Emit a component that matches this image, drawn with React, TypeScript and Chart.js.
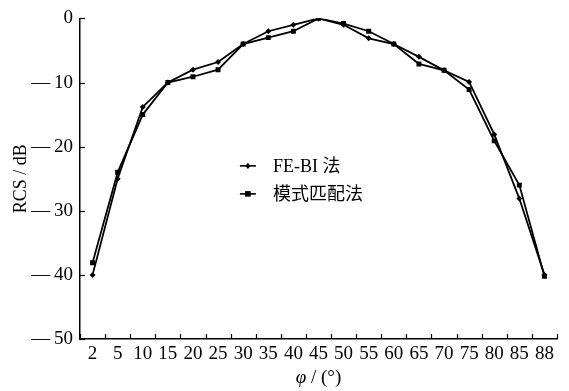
import React, { useEffect, useRef } from "react";
import { Chart, registerables } from "chart.js";

Chart.register(...registerables);

const categories = ["2", "5", "10", "15", "20", "25", "30", "35", "40", "45", "50", "55", "60", "65", "70", "75", "80", "85", "88"];
const febiValues = [-40, -25, -13.8, -10, -8, -6.8, -4, -2, -1, 0, -1, -3.1, -4, -6, -8.1, -9.9, -18.1, -28.1, -40];
const modalValues = [-38.1, -24, -15, -10, -9.1, -8, -4, -3, -2, 0, -0.8, -2, -4, -7.1, -8.1, -11.1, -19.1, -26, -40.2];
const seriesNames = ["FE-BI 法", "模式匹配法"];
const yTicks = [0, -10, -20, -30, -40, -50];

const SERIF = "'Liberation Serif', 'Times New Roman', 'Noto Sans CJK SC', serif";

function drawMarker(ctx: CanvasRenderingContext2D, style: string, x: number, y: number, r: number) {
  ctx.beginPath();
  if (style === "rectRot") {
    ctx.moveTo(x, y - r * 1.2);
    ctx.lineTo(x + r, y);
    ctx.lineTo(x, y + r * 1.2);
    ctx.lineTo(x - r, y);
    ctx.closePath();
  } else {
    ctx.rect(x - r, y - r, 2 * r, 2 * r);
  }
  ctx.fill();
}

const decorPlugin = {
  id: "decor",
  afterDraw(chart: any) {
    const ctx: CanvasRenderingContext2D = chart.ctx;
    const area = chart.chartArea;
    const xs = chart.scales.x;
    const ys = chart.scales.y;
    ctx.save();
    ctx.strokeStyle = "#000";
    ctx.lineWidth = 1.2;
    // inward x ticks at category boundaries
    const step = xs.getPixelForValue(1) - xs.getPixelForValue(0);
    for (let i = 0; i <= categories.length; i++) {
      const px = Math.round(xs.getPixelForValue(0) - step / 2 + i * step) + 0.5;
      ctx.beginPath();
      ctx.moveTo(px, area.bottom);
      ctx.lineTo(px, area.bottom - 5);
      ctx.stroke();
    }
    // inward y ticks
    ys.ticks.forEach((t: any) => {
      const py = Math.round(ys.getPixelForValue(t.value)) + 0.5;
      ctx.beginPath();
      ctx.moveTo(area.left, py);
      ctx.lineTo(area.left + 5, py);
      ctx.stroke();
    });

    // axis titles
    ctx.fillStyle = "#000";
    ctx.textBaseline = "middle";
    const cx = (area.left + area.right) / 2;
    const ty = 378;
    ctx.font = `italic 19px ${SERIF}`;
    const phi = "φ";
    const rest = " / (°)";
    const wPhi = ctx.measureText(phi).width;
    ctx.font = `19px ${SERIF}`;
    const wRest = ctx.measureText(rest).width;
    const start = cx - (wPhi + wRest) / 2;
    ctx.font = `italic 19px ${SERIF}`;
    ctx.textAlign = "left";
    ctx.fillText(phi, start, ty);
    ctx.font = `19px ${SERIF}`;
    ctx.fillText(rest, start + wPhi, ty);

    ctx.save();
    ctx.translate(21, (area.top + area.bottom) / 2);
    ctx.rotate(-Math.PI / 2);
    ctx.textAlign = "center";
    ctx.font = `18px ${SERIF}`;
    ctx.fillText("RCS / dB", 0, 0);
    ctx.restore();

    // legend
    const lx = area.left + (area.right - area.left) * 0.352;
    const ly0 = area.top + (area.bottom - area.top) * 0.46;
    const gap = 28;
    chart.data.datasets.forEach((ds: any, i: number) => {
      const y = ly0 + i * gap;
      ctx.strokeStyle = ds.borderColor;
      ctx.lineWidth = 1.6;
      ctx.beginPath();
      ctx.moveTo(lx - 8, y);
      ctx.lineTo(lx + 8, y);
      ctx.stroke();
      ctx.fillStyle = ds.pointBackgroundColor;
      drawMarker(ctx, ds.pointStyle, lx, y, ds.pointStyle === "rect" ? 2.8 : 2.6);
      ctx.fillStyle = "#000";
      ctx.textAlign = "left";
      ctx.font = `18px ${SERIF}`;
      ctx.fillText(ds.label, lx + 25, y + 1);
    });
    ctx.restore();
  },
};

export default function App() {
  const canvasRef = useRef<HTMLCanvasElement | null>(null);

  useEffect(() => {
    document.body.style.margin = "0";
    const canvas = canvasRef.current;
    if (!canvas) return;
    const chart = new Chart(canvas, {
      type: "line",
      data: {
        labels: categories,
        datasets: [
          {
            label: seriesNames[0],
            data: febiValues,
            borderColor: "#000",
            backgroundColor: "#000",
            pointBackgroundColor: "#000",
            pointBorderColor: "#000",
            borderWidth: 1.8,
            pointStyle: "rectRot",
            pointRadius: 3,
            pointBorderWidth: 0,
            tension: 0,
          },
          {
            label: seriesNames[1],
            data: modalValues,
            borderColor: "#000",
            backgroundColor: "#000",
            pointBackgroundColor: "#000",
            pointBorderColor: "#000",
            borderWidth: 1.8,
            pointStyle: "rect",
            pointRadius: 3.5,
            pointBorderWidth: 0,
            tension: 0,
          },
        ],
      },
      options: {
        animation: false,
        responsive: false,
        maintainAspectRatio: false,
        layout: { padding: { left: 0, right: 12, top: 14, bottom: 0 } },
        plugins: {
          legend: { display: false },
          tooltip: { enabled: false },
          title: { display: false },
        },
        scales: {
          x: {
            type: "category",
            offset: true,
            grid: { display: false, drawTicks: false },
            border: { display: true, color: "#000", width: 1.5 },
            ticks: {
              autoSkip: false,
              maxRotation: 0,
              minRotation: 0,
              padding: 4,
              color: "#000",
              font: { family: SERIF, size: 19 },
            },
            afterFit: (s: any) => {
              s.height = 52;
            },
          },
          y: {
            type: "linear",
            min: -50,
            max: 0,
            afterBuildTicks: (s: any) => {
              s.ticks = yTicks.map((v) => ({ value: v }));
            },
            grid: { display: false, drawTicks: false },
            border: { display: true, color: "#000", width: 1.5 },
            ticks: {
              padding: 7,
              color: "#000",
              font: { family: SERIF, size: 19 },
              callback: (v: any) => (v === 0 ? "0" : "\u2014\u2009" + Math.abs(v)),
            },
            afterFit: (s: any) => {
              s.width = 80;
            },
          },
        },
      },
      plugins: [decorPlugin],
    });
    return () => chart.destroy();
  }, []);

  return (
    <div style={{ position: "absolute", left: 0, top: 0, width: 569, height: 391, background: "#fff" }}>
      <canvas ref={canvasRef} width={569} height={391} style={{ display: "block" }} />
    </div>
  );
}
